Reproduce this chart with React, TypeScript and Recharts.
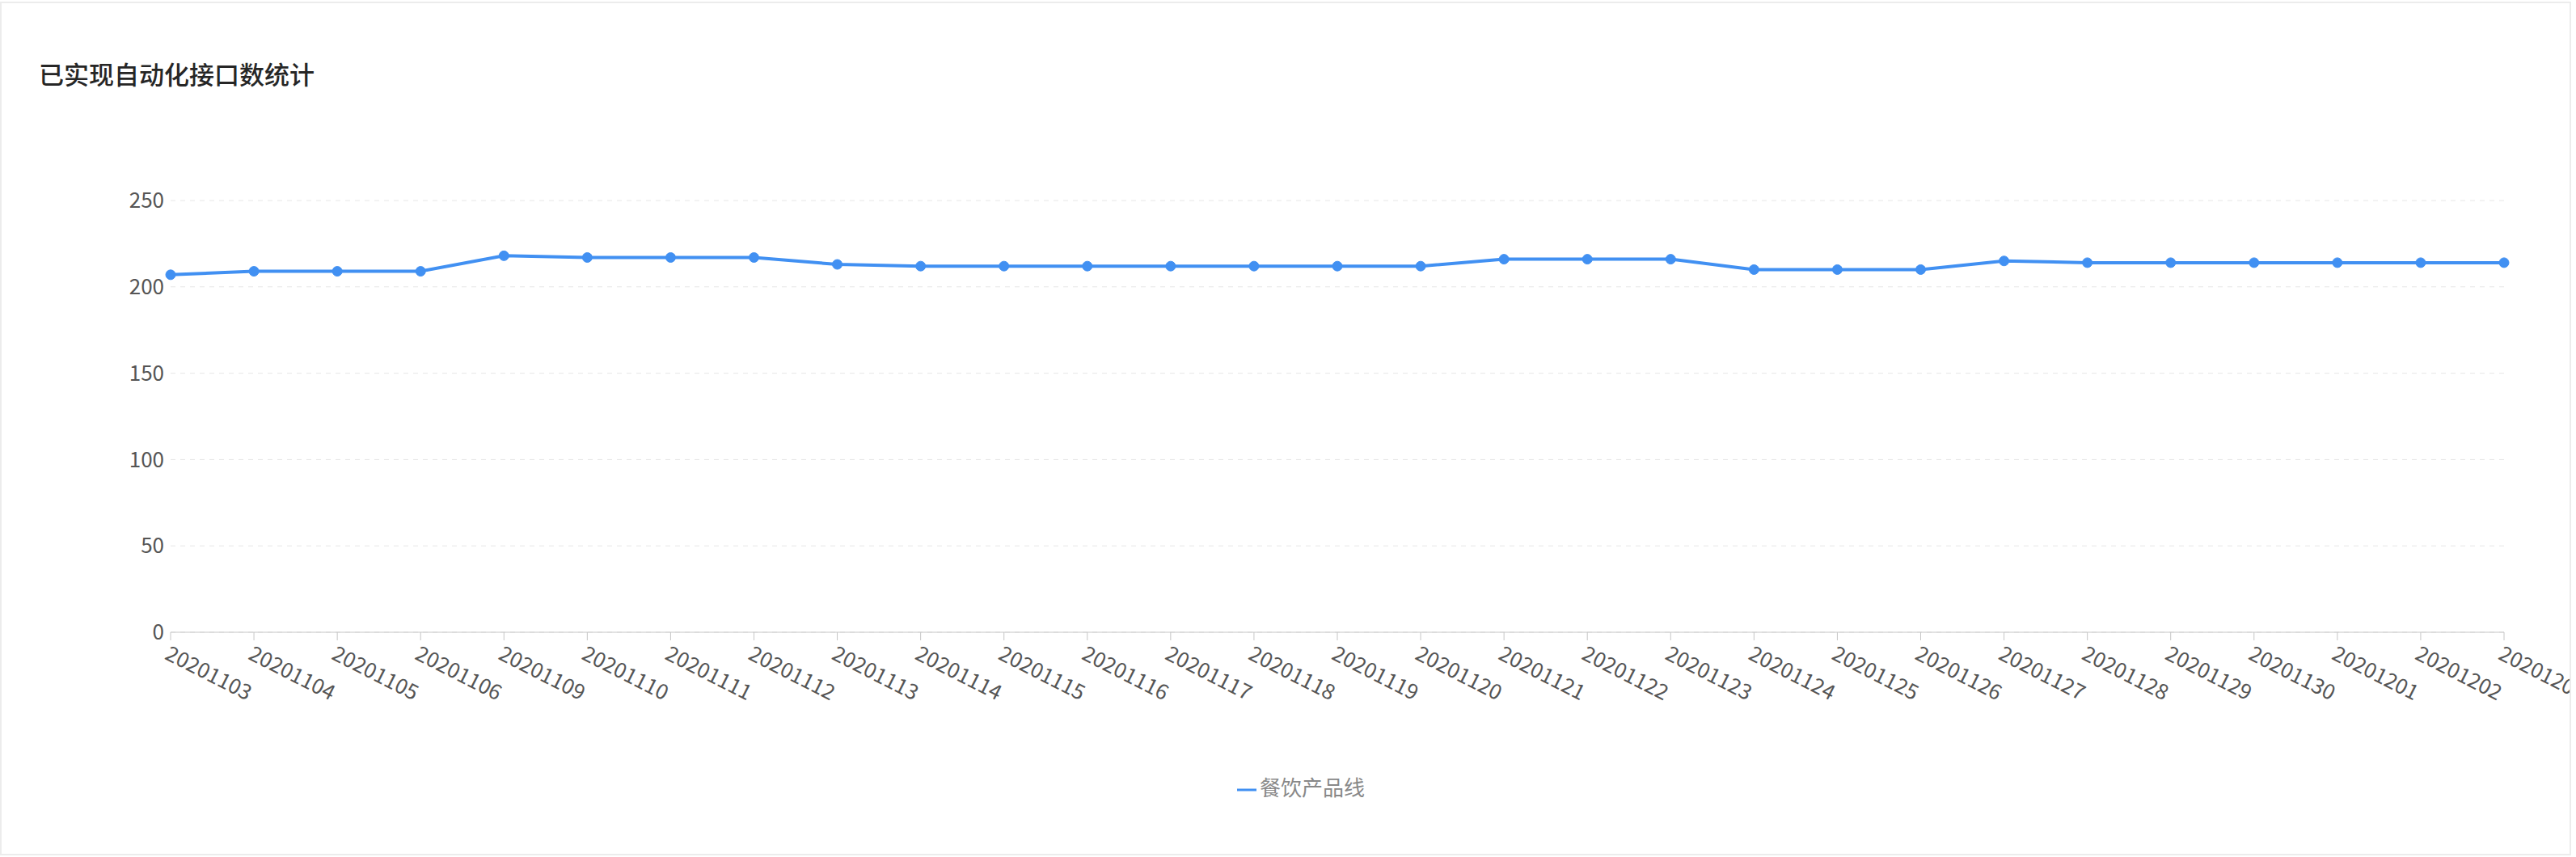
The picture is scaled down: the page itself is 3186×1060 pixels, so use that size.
import { LineChart, Line, XAxis, YAxis, CartesianGrid, Legend } from "recharts";

const dates = [
  "20201103", "20201104", "20201105", "20201106", "20201109", "20201110",
  "20201111", "20201112", "20201113", "20201114", "20201115", "20201116",
  "20201117", "20201118", "20201119", "20201120", "20201121", "20201122",
  "20201123", "20201124", "20201125", "20201126", "20201127", "20201128",
  "20201129", "20201130", "20201201", "20201202", "20201203",
];
const counts = [
  207, 209, 209, 209, 218, 217, 217, 217, 213, 212, 212, 212, 212, 212, 212,
  212, 216, 216, 216, 210, 210, 210, 215, 214, 214, 214, 214, 214, 214,
];
const yTicks = [0, 50, 100, 150, 200, 250];
const seriesName = "餐饮产品线";

const data = dates.map((d, i) => ({ date: d, value: counts[i] }));

const font = "'Noto Sans CJK SC', 'Noto Sans', sans-serif";

const App = () => {
  return (
    <div
      style={{
        position: "absolute",
        left: 0,
        top: 2,
        width: 3176,
        height: 1052,
        border: "2px solid #ececec",
        overflow: "hidden",
        background: "#fff",
        fontFamily: font,
      }}
    >
      <div
        style={{
          position: "absolute",
          left: 46,
          top: 64,
          fontSize: 31,
          color: "#262626",
          fontWeight: 500,
        }}
      >
        已实现自动化接口数统计
      </div>
      <LineChart
        width={3176}
        height={1052}
        data={data}
        margin={{ top: 244, right: 81, left: 129, bottom: 137 }}
      >
        <CartesianGrid vertical={false} stroke="#e6e6e6" strokeDasharray="6 6" />
        <XAxis
          dataKey="date"
          interval={0}
          height={100}
          stroke="#c6c6c6"
          tickSize={10}
          tick={{ fill: "#555", fontSize: 26, textAnchor: "start", fontFamily: font }}
          angle={27}
          dy={4}
        />
        <YAxis
          width={80}
          domain={[0, 250]}
          ticks={yTicks}
          axisLine={false}
          tickLine={false}
          tick={{ fill: "#555", fontSize: 26, fontFamily: font }}
        />
        <Legend
          verticalAlign="bottom"
          iconType="plainline"
          iconSize={24}
          wrapperStyle={{ top: 950, fontSize: 26, color: "#888", fontFamily: font }}
          formatter={(v) => <span style={{ color: "#888" }}>{v}</span>}
        />
        <Line
          name={seriesName}
          dataKey="value"
          type="linear"
          stroke="#4190f2"
          strokeWidth={4}
          dot={{ r: 6, fill: "#4190f2", stroke: "#4190f2", strokeWidth: 1 }}
          isAnimationActive={false}
        />
      </LineChart>
    </div>
  );
};

export default App;
